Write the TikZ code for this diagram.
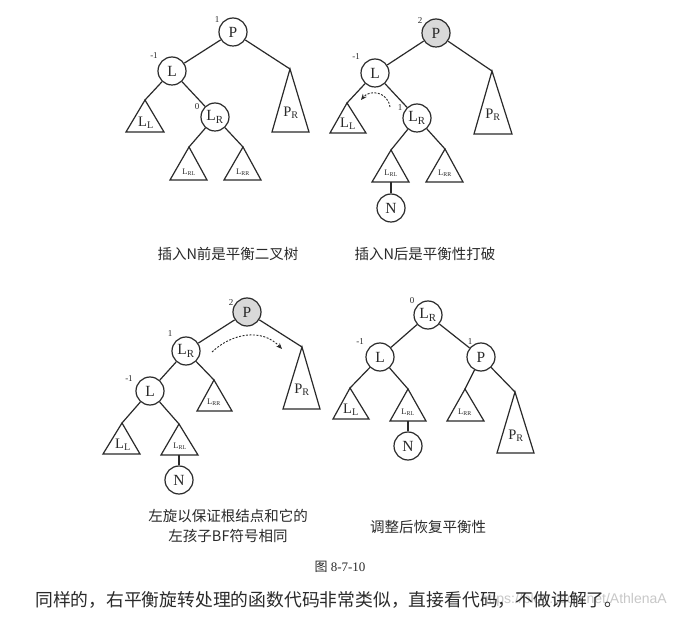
\documentclass[tikz,border=0pt]{standalone}
\usepackage{fontspec}
\setmainfont{Liberation Serif}
\newfontfamily\cjk{Noto Sans CJK SC}
\newfontfamily\wmfont{Liberation Sans}
\usetikzlibrary{arrows.meta}
\definecolor{ink}{HTML}{2A2A2A}
\definecolor{nodegray}{HTML}{D9D9D9}
\definecolor{wmgray}{HTML}{C8C8C8}
\newcommand{\ssb}[2]{#1\textsubscript{#2}}
\begin{document}
\begin{tikzpicture}[x=1pt,y=-1pt,
  nd/.style={circle,draw=ink,line width=1.2pt,minimum size=28pt,inner sep=0pt,font=\fontsize{15.5}{15.5}\selectfont,fill=white,text=ink},
  gnd/.style={nd,fill=nodegray},
  bf/.style={font=\fontsize{9}{9}\selectfont,inner sep=0pt,text=ink},
  tri/.style={draw=ink,line width=1.2pt,line join=miter},
  edge/.style={draw=ink,line width=1.2pt},
  tlab/.style={inner sep=0pt,font=\fontsize{14.5}{14.5}\selectfont,text=ink},
  slab/.style={inner sep=0pt,font=\fontsize{8.5}{8.5}\selectfont,text=ink},
  captext/.style={font=\cjk\fontsize{14.5}{20}\selectfont,align=center,inner sep=0pt,text=ink},
  rot/.style={draw=ink,line width=0.9pt,dash pattern=on 2pt off 1.5pt,-{Stealth[length=6pt,width=5pt]}}
]
\useasboundingbox[fill=white] (0,0) rectangle (678,620);

% ---------- Diagram A ----------
\node[nd] (aP) at (233,32) {P};
\node[nd] (aL) at (172,71) {L};
\node[nd] (aLR) at (215,117) {\ssb{L}{R}};
\node[bf] at (217,20) {1};
\node[bf] at (154,56) {-1};
\node[bf] at (197,107) {0};
\coordinate (aLLa) at (145,100);
\coordinate (aPRa) at (290,69);
\coordinate (aLRLa) at (189,147);
\coordinate (aLRRa) at (243,147);
\draw[tri] (aLLa) -- (126,132) -- (164,132) -- cycle;
\draw[tri] (aPRa) -- (272,132) -- (309,132) -- cycle;
\draw[tri] (aLRLa) -- (170,180) -- (207,180) -- cycle;
\draw[tri] (aLRRa) -- (224,180) -- (261,180) -- cycle;
\node[tlab] (aLLt) at (146,123) {\ssb{L}{L}};
\node[tlab] (aPRt) at (291,113) {\ssb{P}{R}};
\node[slab] (aLRLt) at (189,172) {\ssb{L}{RL}};
\node[slab] (aLRRt) at (243,172) {\ssb{L}{RR}};
\draw[edge] (aP) -- (aL);
\draw[edge] (aP) -- (aPRa);
\draw[edge] (aL) -- (aLLa);
\draw[edge] (aL) -- (aLR);
\draw[edge] (aLR) -- (aLRLa);
\draw[edge] (aLR) -- (aLRRa);

% ---------- Diagram B ----------
\node[gnd] (bP) at (436,33) {P};
\node[nd] (bL) at (375,73) {L};
\node[nd] (bLR) at (417,118) {\ssb{L}{R}};
\node[nd] (bN) at (391,208) {N};
\node[bf] at (420,21) {2};
\node[bf] at (356,57) {-1};
\node[bf] at (400,108) {1};
\coordinate (bLLa) at (347,103);
\coordinate (bPRa) at (492,71);
\coordinate (bLRLa) at (391,150);
\coordinate (bLRLb) at (391,182);
\coordinate (bLRRa) at (445,149);
\draw[tri] (bLLa) -- (330,133) -- (366,133) -- cycle;
\draw[tri] (bPRa) -- (474,134) -- (512,134) -- cycle;
\draw[tri] (bLRLa) -- (372,182) -- (409,182) -- cycle;
\draw[tri] (bLRRa) -- (426,182) -- (463,182) -- cycle;
\node[tlab] (bLLt) at (348,124) {\ssb{L}{L}};
\node[tlab] (bPRt) at (493,115) {\ssb{P}{R}};
\node[slab] (bLRLt) at (391,173) {\ssb{L}{RL}};
\node[slab] (bLRRt) at (445,173) {\ssb{L}{RR}};
\draw[edge] (bP) -- (bL);
\draw[edge] (bP) -- (bPRa);
\draw[edge] (bL) -- (bLLa);
\draw[edge] (bL) -- (bLR);
\draw[edge] (bLR) -- (bLRLa);
\draw[edge] (bLR) -- (bLRRa);
\draw[edge] (bLRLb) -- (bN);
\coordinate (bA1) at (390,107);
\coordinate (bA2) at (361,100);
\draw[rot] (bA1) .. controls (388,92) and (370,89) .. (bA2);

% ---------- Diagram C ----------
\node[gnd] (cP) at (247,312) {P};
\node[nd] (cLR) at (186,351) {\ssb{L}{R}};
\node[nd] (cL) at (150,391) {L};
\node[nd] (cN) at (179,480) {N};
\node[bf] at (231,303) {2};
\node[bf] at (170,334) {1};
\node[bf] at (129,379) {-1};
\coordinate (cLRRa) at (214,380);
\coordinate (cPRa) at (302,347);
\coordinate (cLLa) at (122,423);
\coordinate (cLRLa) at (179,424);
\coordinate (cLRLb) at (179,455);
\draw[tri] (cLRRa) -- (197,411) -- (232,411) -- cycle;
\draw[tri] (cPRa) -- (283,409) -- (320,409) -- cycle;
\draw[tri] (cLLa) -- (103,454) -- (140,454) -- cycle;
\draw[tri] (cLRLa) -- (161,455) -- (198,455) -- cycle;
\node[slab] (cLRRt) at (214,402) {\ssb{L}{RR}};
\node[tlab] (cPRt) at (302,390) {\ssb{P}{R}};
\node[tlab] (cLLt) at (123,445) {\ssb{L}{L}};
\node[slab] (cLRLt) at (180,446) {\ssb{L}{RL}};
\draw[edge] (cP) -- (cLR);
\draw[edge] (cP) -- (cPRa);
\draw[edge] (cLR) -- (cL);
\draw[edge] (cLR) -- (cLRRa);
\draw[edge] (cL) -- (cLLa);
\draw[edge] (cL) -- (cLRLa);
\draw[edge] (cLRLb) -- (cN);
\coordinate (cA1) at (212,352);
\coordinate (cA2) at (282,349);
\draw[rot] (cA1) .. controls (232,333) and (262,328) .. (cA2);

% ---------- Diagram D ----------
\node[nd] (dLR) at (428,315) {\ssb{L}{R}};
\node[nd] (dL) at (380,357) {L};
\node[nd] (dP) at (481,357) {P};
\node[nd] (dN) at (408,446) {N};
\node[bf] at (412,301) {0};
\node[bf] at (360,342) {-1};
\node[bf] at (470,342) {1};
\coordinate (dLLa) at (350,388);
\coordinate (dLRLa) at (408,389);
\coordinate (dLRLb) at (408,421);
\coordinate (dLRRa) at (465,389);
\coordinate (dPRa) at (515,392);
\draw[tri] (dLLa) -- (333,419) -- (369,419) -- cycle;
\draw[tri] (dLRLa) -- (390,421) -- (426,421) -- cycle;
\draw[tri] (dLRRa) -- (447,421) -- (484,421) -- cycle;
\draw[tri] (dPRa) -- (497,453) -- (534,453) -- cycle;
\node[tlab] (dLLt) at (351,410) {\ssb{L}{L}};
\node[slab] (dLRLt) at (408,412) {\ssb{L}{RL}};
\node[slab] (dLRRt) at (465,412) {\ssb{L}{RR}};
\node[tlab] (dPRt) at (516,436) {\ssb{P}{R}};
\draw[edge] (dLR) -- (dL);
\draw[edge] (dLR) -- (dP);
\draw[edge] (dL) -- (dLLa);
\draw[edge] (dL) -- (dLRLa);
\draw[edge] (dP) -- (dLRRa);
\draw[edge] (dP) -- (dPRa);
\draw[edge] (dLRLb) -- (dN);

% ---------- Captions ----------
\node[captext] (capA) at (228,254) {插入N前是平衡二叉树};
\node[captext] (capB) at (425,254) {插入N后是平衡性打破};
\node[captext] (capC) at (228,526) {左旋以保证根结点和它的\\左孩子BF符号相同};
\node[captext] (capD) at (428,527) {调整后恢复平衡性};
\node[inner sep=0pt,text=ink,font=\fontsize{13}{13}\selectfont] (fig) at (340,567) {{\cjk 图} 8-7-10};
\node[text=wmgray,anchor=east,inner sep=0pt,font=\wmfont\fontsize{14}{14}\selectfont] (wmk) at (667,600) {https://blog.csdn.net/AthlenaA};
\node[anchor=west,inner sep=0pt,text=ink,font=\cjk\fontsize{17.8}{17.8}\selectfont] (body) at (35,600) {同样的，右平衡旋转处理的函数代码非常类似，直接看代码，不做讲解了。};
\end{tikzpicture}
\end{document}
